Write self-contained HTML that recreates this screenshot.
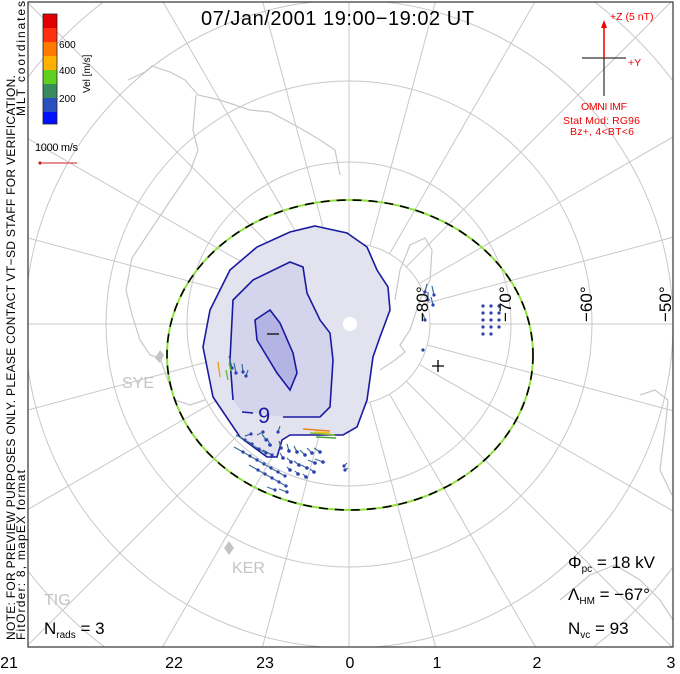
<!DOCTYPE html>
<html><head><meta charset="utf-8"><style>
html,body{margin:0;padding:0;background:#fff;width:680px;height:674px;overflow:hidden}
svg{display:block;font-family:"Liberation Sans",sans-serif}
</style></head><body>
<svg width="680" height="674" viewBox="0 0 680 674" xmlns="http://www.w3.org/2000/svg">
<defs><clipPath id="c"><rect x="28" y="2" width="645" height="645"/></clipPath></defs>
<rect x="0" y="0" width="680" height="674" fill="#fff"/>
<g clip-path="url(#c)">
 <g fill="none" stroke="#c8c8c8" stroke-width="1">
  <circle cx="349" cy="324" r="81"/><circle cx="349" cy="324" r="162"/>
  <circle cx="349" cy="324" r="243"/><circle cx="349" cy="324" r="324"/><circle cx="349" cy="324" r="405"/>
  <g id="sp">
  <line x1="349" y1="243" x2="349" y2="-200"/><line x1="349" y1="405" x2="349" y2="900"/>
  <line x1="268" y1="324" x2="-200" y2="324"/><line x1="430" y1="324" x2="900" y2="324"/>
  </g>
  <use href="#sp" transform="rotate(15 349 324)"/><use href="#sp" transform="rotate(30 349 324)"/>
  <use href="#sp" transform="rotate(45 349 324)"/><use href="#sp" transform="rotate(60 349 324)"/>
  <use href="#sp" transform="rotate(75 349 324)"/>
 </g>
 <g fill="none" stroke="#c8c8c8" stroke-width="1.2">
  <path d="M128,80 L145,72 L152,66 L170,72 L185,80 L198,95 L220,100 L250,110 L270,112 L300,128 L320,140 L335,150 L340,175"/>
  <path d="M196,95 L193,130 L198,150 L190,172 L172,198 L152,228 L132,258 L126,290 L132,315 L140,340 L150,355 L160,358"/>
  <path d="M395,300 L400,270 L410,245 L425,238 L432,250 L430,280 L420,300 L410,330 L400,345 L405,352 L395,360 L380,370"/>
  <path d="M640,395 L655,390 L668,400 L665,430 L660,470 L672,495"/>
  <path d="M560,600 L590,575 L615,565 L640,580 L660,600 L673,620"/>
  <path d="M160,358 L175,400 L190,405 L205,400"/>
 </g>
 <g fill="#c4c4c4">
  <path d="M160,350 l4,5 l-4,8 l-5,-5z"/><path d="M229,541 l5,7 l-5,7 l-5,-7z"/>
 </g>
 <text x="122" y="388" font-size="16" fill="#c4c4c4">SYE</text>
 <text x="232" y="573" font-size="16" fill="#c4c4c4">KER</text>
 <text x="44" y="605" font-size="16" fill="#c4c4c4">TIG</text>
 <ellipse cx="350" cy="355" rx="183" ry="155" fill="none" stroke="#90e040" stroke-width="2"/>
 <ellipse cx="350" cy="355" rx="183" ry="155" fill="none" stroke="#000" stroke-width="1.6" stroke-dasharray="9 7"/>
 <path d="M315,226 L347,233 L367,247 L377,270 L388,287 L390,310 L380,337 L373,357 L367,400 L357,427 L343,435 L290,435 L282,440 L277,457 L267,457 L240,437 L213,397 L203,347 L210,310 L230,270 L257,247 L290,232 Z" fill="#e3e3f0" stroke="#1a1aa0" stroke-width="1.6"/>
 <path d="M233,400 L230,360 L233,300 L253,280 L290,262 L303,267 L307,293 L320,320 L330,333 L333,360 L330,407 L320,417 L283,417 L253,413 L242,412 Z" fill="#d4d4ec" stroke="none"/>
 <path d="M233,400 L230,360 L233,300 L253,280 L290,262 L303,267 L307,293 L320,320 L330,333 L333,360 L330,407 L320,417 L283,417" fill="none" stroke="#1a1aa0" stroke-width="1.6"/>
 <path d="M253,413 L242,412" fill="none" stroke="#1a1aa0" stroke-width="1.6"/>
 <text x="258" y="423" font-size="22" fill="#1a1aa0">9</text>
 <path d="M270,310 L255,320 L257,340 L277,373 L290,390 L297,373 L293,353 L280,323 Z" fill="#b4b4e4" stroke="#1a1aa0" stroke-width="1.6"/>
 <line x1="267" y1="334" x2="279" y2="334" stroke="#222" stroke-width="1.5"/>
 <circle cx="350" cy="324" r="7" fill="#fff"/>
 <path d="M438,360 v12 M432,366 h12" stroke="#000" stroke-width="1.3"/>
 <g stroke="#3a6e96" stroke-width="1.2" fill="#2a40b0">
  <path d="M245,440 l-9,-5 M252,444 l-9,-5 M259,449 l-9,-5 M266,453 l-9,-5 M272,455 l-9,-5"/>
  <path d="M243,452 l-9,-5 M250,456 l-9,-5 M257,460 l-9,-5 M264,464 l-9,-5 M271,468 l-9,-5 M278,472 l-9,-5 M285,476 l-9,-5"/>
  <path d="M258,470 l-9,-5 M265,474 l-9,-5 M272,478 l-9,-5 M279,482 l-9,-5 M286,486 l-9,-5 M275,490 l-8,-3 M287,492 l-8,-3"/>
  <path d="M270,445 l-3,-7 M281,448 l-2,-7 M289,451 l-2,-7 M297,452 l-3,-6 M305,455 l-5,-5 M312,453 l-5,-5 M320,452 l-6,-4 M283,458 l-3,-5 M291,462 l-4,-4 M299,465 l-5,-4 M307,468 l-6,-3 M315,463 l-7,-3 M323,462 l-8,-3 M290,470 l-3,-3 M298,474 l-3,-3 M306,477 l-3,-3 M314,472 l-4,-3"/>
  <path d="M251,434 l-6,2 M263,432 l-6,3 M266,440 l-4,-6 M278,432 l2,-6 M344,466 l3,-3 M345,470 l3,-2"/>
  <path d="M232,368 l-3,-12 M236,373 l-2,-10 M243,372 l-1,-8 M246,376 l2,-6"/>
  <path d="M425,292 l2,-8 M428,300 l0,-8 M434,295 l-2,-9 M433,305 l-2,-8 M425,320 l-2,-6"/>
 </g>
 <g fill="#2a40b0">
  <circle cx="245" cy="440" r="1.6"/><circle cx="252" cy="444" r="1.6"/><circle cx="259" cy="449" r="1.6"/><circle cx="266" cy="453" r="1.6"/><circle cx="272" cy="455" r="1.6"/>
  <circle cx="243" cy="452" r="1.6"/><circle cx="250" cy="456" r="1.6"/><circle cx="257" cy="460" r="1.6"/><circle cx="264" cy="464" r="1.6"/><circle cx="271" cy="468" r="1.6"/><circle cx="278" cy="472" r="1.6"/><circle cx="285" cy="476" r="1.6"/>
  <circle cx="258" cy="470" r="1.6"/><circle cx="265" cy="474" r="1.6"/><circle cx="272" cy="478" r="1.6"/><circle cx="279" cy="482" r="1.6"/><circle cx="286" cy="486" r="1.6"/><circle cx="275" cy="490" r="1.6"/><circle cx="287" cy="492" r="1.6"/>
  <circle cx="270" cy="445" r="1.8"/><circle cx="281" cy="448" r="1.8"/><circle cx="289" cy="451" r="1.8"/><circle cx="297" cy="452" r="1.8"/><circle cx="305" cy="455" r="1.8"/><circle cx="312" cy="453" r="1.8"/><circle cx="320" cy="452" r="1.8"/>
  <circle cx="283" cy="458" r="1.8"/><circle cx="291" cy="462" r="1.8"/><circle cx="299" cy="465" r="1.8"/><circle cx="307" cy="468" r="1.8"/><circle cx="315" cy="463" r="1.8"/><circle cx="323" cy="462" r="1.8"/>
  <circle cx="290" cy="470" r="1.8"/><circle cx="298" cy="474" r="1.8"/><circle cx="306" cy="477" r="1.8"/><circle cx="314" cy="472" r="1.8"/>
  <circle cx="251" cy="434" r="1.6"/><circle cx="263" cy="432" r="1.6"/><circle cx="266" cy="440" r="1.6"/><circle cx="278" cy="432" r="1.6"/><circle cx="344" cy="466" r="1.6"/><circle cx="345" cy="470" r="1.6"/>
  <circle cx="232" cy="368" r="1.6"/><circle cx="236" cy="373" r="1.6"/><circle cx="243" cy="372" r="1.6"/><circle cx="246" cy="376" r="1.6"/>
  <circle cx="425" cy="292" r="1.6"/><circle cx="428" cy="300" r="1.6"/><circle cx="434" cy="295" r="1.6"/><circle cx="433" cy="305" r="1.6"/><circle cx="425" cy="320" r="1.6"/><circle cx="423" cy="350" r="1.6"/>
  <circle cx="483" cy="306" r="1.6"/><circle cx="491" cy="306" r="1.6"/><circle cx="499" cy="306" r="1.6"/>
  <circle cx="483" cy="313" r="1.6"/><circle cx="491" cy="313" r="1.6"/><circle cx="499" cy="313" r="1.6"/>
  <circle cx="483" cy="320" r="1.6"/><circle cx="491" cy="320" r="1.6"/><circle cx="499" cy="320" r="1.6"/>
  <circle cx="483" cy="327" r="1.6"/><circle cx="491" cy="327" r="1.6"/><circle cx="499" cy="327" r="1.6"/>
  <circle cx="483" cy="334" r="1.6"/><circle cx="491" cy="334" r="1.6"/>
 </g>
 <g stroke-width="1.4">
  <path d="M218,362 l2,15" stroke="#f0a020"/><path d="M226,370 l2,10" stroke="#60c030"/><path d="M229,363 l2,8" stroke="#60c030"/>
  <path d="M303,429 l27,2" stroke="#f08020"/><path d="M315,432 l15,1" stroke="#f0c020"/>
  <path d="M310,433 l25,2" stroke="#80c030"/><path d="M316,437 l20,1" stroke="#50a040"/>
 </g>
 <g font-size="17" fill="#000">
  <text transform="translate(428,322) rotate(-90)">−80°</text>
  <text transform="translate(511,322) rotate(-90)">−70°</text>
  <text transform="translate(592,322) rotate(-90)">−60°</text>
  <text transform="translate(671,322) rotate(-90)">−50°</text>
 </g>
</g>
<rect x="28" y="2" width="645" height="645" fill="none" stroke="#333" stroke-width="1.2"/>
<text x="201" y="25" font-size="20" fill="#000" textLength="273" lengthAdjust="spacing">07/Jan/2001 19:00−19:02 UT</text>
<rect x="43" y="14" width="14" height="14" fill="#e00000"/>
<rect x="43" y="28" width="14" height="14" fill="#ff3010"/>
<rect x="43" y="42" width="14" height="14" fill="#ff7a00"/>
<rect x="43" y="56" width="14" height="14" fill="#ffb000"/>
<rect x="43" y="70" width="14" height="14" fill="#60d020"/>
<rect x="43" y="84" width="14" height="14" fill="#3a8a60"/>
<rect x="43" y="98" width="14" height="14" fill="#2a50c0"/>
<rect x="43" y="112" width="14" height="12" fill="#0010ff"/>
<rect x="43" y="14" width="14" height="110" fill="none" stroke="#222" stroke-width="0.8"/>
<g font-size="10" fill="#000"><text x="59" y="48">600</text><text x="59" y="74">400</text><text x="59" y="102">200</text></g>
<text transform="translate(90,93) rotate(-90)" font-size="10">Vel [m/s]</text>
<text x="35" y="151" font-size="11" textLength="43">1000 m/s</text>
<line x1="40" y1="163" x2="77" y2="163" stroke="#d02020" stroke-width="1"/><circle cx="40" cy="163" r="1.6" fill="#d02020"/>
<text transform="translate(15,640) rotate(-90)" font-size="12" textLength="565" lengthAdjust="spacing">NOTE: FOR PREVIEW PURPOSES ONLY. PLEASE CONTACT VT−SD STAFF FOR VERIFICATION.</text>
<text transform="translate(25,640) rotate(-90)" font-size="12" textLength="170" lengthAdjust="spacing">FitOrder: 8, mapEX format</text>
<text transform="translate(25,116) rotate(-90)" font-size="12" textLength="115" lengthAdjust="spacing">MLT coordinates</text>
<g stroke="#000" stroke-width="1"><line x1="582" y1="58" x2="626" y2="58"/><line x1="604" y1="58" x2="604" y2="96"/></g>
<line x1="604" y1="58" x2="604" y2="26" stroke="#e00" stroke-width="1.5"/><path d="M601,28 L604,20 L607,28Z" fill="#e00"/>
<g fill="#e00" font-size="10.5">
 <text x="610" y="20">+Z (5 nT)</text><text x="628" y="66">+Y</text>
 <text x="581" y="110" textLength="46">OMNI IMF</text>
 <text x="563" y="124" textLength="77">Stat Mod: RG96</text>
 <text x="570" y="135" textLength="64">Bz+, 4&lt;BT&lt;6</text>
</g>
<g font-size="17" fill="#000">
 <text x="568" y="568">Φ<tspan font-size="10" dy="4">pc</tspan><tspan dy="-4"> = 18 kV</tspan></text>
 <text x="568" y="600">Λ<tspan font-size="10" dy="4">HM</tspan><tspan dy="-4"> = −67°</tspan></text>
 <text x="568" y="634">N<tspan font-size="10" dy="4">vc</tspan><tspan dy="-4"> = 93</tspan></text>
 <text x="44" y="634">N<tspan font-size="10" dy="4">rads</tspan><tspan dy="-4"> = 3</tspan></text>
</g>
<g font-size="16" fill="#000" text-anchor="middle">
 <text x="9" y="668">21</text><text x="174" y="668">22</text><text x="265" y="668">23</text>
 <text x="350" y="668">0</text><text x="437" y="668">1</text><text x="537" y="668">2</text><text x="671" y="668">3</text>
</g>
</svg>
</body></html>
